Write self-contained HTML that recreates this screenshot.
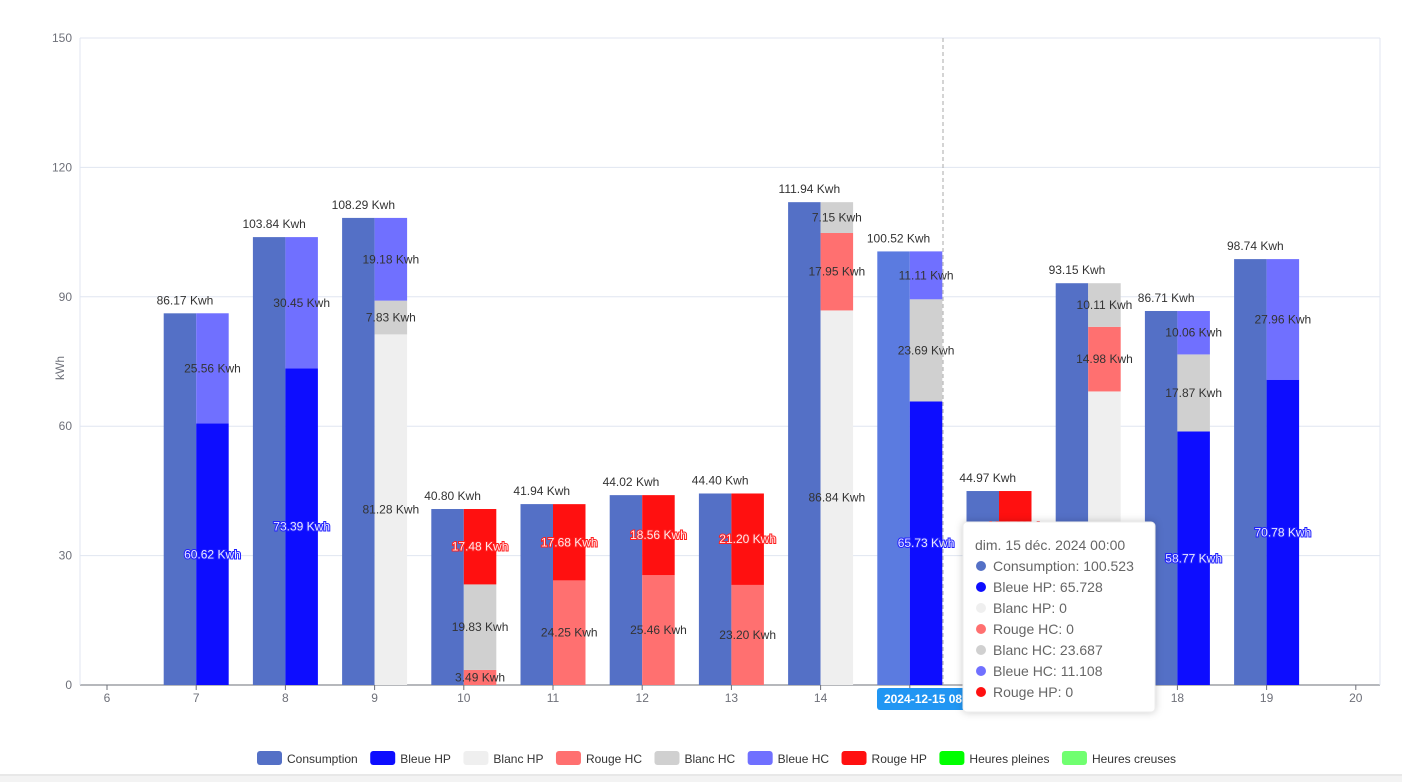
<!DOCTYPE html>
<html><head><meta charset="utf-8"><style>
body{margin:0;background:#fff;font-family:"Liberation Sans",sans-serif;}
svg{display:block}
</style></head><body>
<svg id="c" width="1402" height="782"></svg>
<script>
const days=[6,7,8,9,10,11,12,13,14,15,16,17,18,19,20];
const consumption=[null,86.17,103.84,108.29,40.80,41.94,44.02,44.40,111.94,100.52,44.97,93.15,86.71,98.74,null];
const bleueHP=[0,60.62,73.39,0,0,0,0,0,0,65.73,0,0,58.77,70.78,0];
const blancHP=[0,0,0,81.28,0,0,0,0,86.84,0,0,68.06,0,0,0];
const rougeHC=[0,0,0,0,3.49,24.25,25.46,23.20,17.95,0,28.60,14.98,0,0,0];
const blancHC=[0,0,0,7.83,19.83,0,0,0,7.15,23.69,0,10.11,17.87,0,0];
const bleueHC=[0,25.56,30.45,19.18,0,0,0,0,0,11.11,0,0,10.06,27.96,0];
const rougeHP=[0,0,0,0,17.48,17.68,18.56,21.20,0,0,16.37,0,0,0,0];
const yTicks=[0,30,60,90,120,150];
const legendNames=["Consumption","Bleue HP","Blanc HP","Rouge HC","Blanc HC","Bleue HC","Rouge HP","Heures pleines","Heures creuses"];
const legendColors=["#5470c6","#0d0dff","#efefef","#ff7070","#d0d0d0","#7070ff","#ff1010","#00ff00","#70ff70"];

const svg=document.getElementById('c');const NS='http://www.w3.org/2000/svg';
function mk(t,a,p){const e=document.createElementNS(NS,t);for(const k in a)e.setAttribute(k,a[k]);(p||svg).appendChild(e);return e;}
const X0=80,X1=1380,Y0=685,Y1=38;
const y=v=>Y0-(v/150)*(Y0-Y1);
const x=d=>107+(d-6)*89.2;
const BW=32.5;
yTicks.forEach(t=>{
 const g=mk('line',{x1:X0,x2:X1,y1:y(t),y2:y(t),stroke:t===0?'#6e7079':'#e0e6f1'});
 
 const l=mk('text',{x:72,y:y(t)+4,'text-anchor':'end','font-size':12,fill:'#6e7079'});l.textContent=t;
 
});
mk('line',{x1:X0,x2:X0,y1:Y1,y2:Y0,stroke:'#e0e6f1'});
mk('line',{x1:X1,x2:X1,y1:Y1,y2:Y0,stroke:'#e0e6f1'});
const yt=mk('text',{x:64,y:368,'font-size':12,fill:'#6e7079','text-anchor':'middle',transform:'rotate(-90 64 368)'});yt.textContent='kWh';

days.forEach(d=>{
 mk('line',{x1:x(d),x2:x(d),y1:Y0,y2:Y0+5,stroke:'#6e7079'});
 const t=mk('text',{x:x(d),y:Y0+17,'text-anchor':'middle','font-size':12,fill:'#6e7079'});t.textContent=d;
 
});
const series=[['bleue-hp',bleueHP,'#0d0dff'],['blanc-hp',blancHP,'#efefef'],['rouge-hc',rougeHC,'#ff7070'],['blanc-hc',blancHC,'#d0d0d0'],['bleue-hc',bleueHC,'#7070ff'],['rouge-hp',rougeHP,'#ff1010']];
days.forEach((d,i)=>{
 const c=consumption[i];if(c==null)return;
 const cx=x(d);
 const r=mk('rect',{x:cx-BW,y:y(c),width:BW,height:Y0-y(c),fill:d===15?'#5b7be0':'#5470c6'});
 
 const l=mk('text',{x:cx-BW/2+5,y:y(c)-9,'text-anchor':'middle','font-size':12,fill:'#333'});l.textContent=c.toFixed(2)+' Kwh';
 
 let acc=0;
 series.forEach(([n,arr,col])=>{
  const v=arr[i];if(!v)return;
  const s=mk('rect',{x:cx,y:y(acc+v),width:BW,height:y(acc)-y(acc+v),fill:col});
  
  const my=(y(acc)+y(acc+v))/2+4;
  const a={x:cx+BW/2,y:my,'text-anchor':'middle','font-size':12,fill:'#333'};
  if(n==='bleue-hp'){a.fill='#e8e8ff';a.stroke='#2020ff';a['stroke-width']=2;a['paint-order']='stroke';}
  if(n==='rouge-hp'){a.fill='#ffe8e8';a.stroke='#ff2020';a['stroke-width']=2;a['paint-order']='stroke';}
  const t=mk('text',a);t.textContent=v.toFixed(2)+' Kwh';
  
  acc+=v;
 });
});
mk('line',{x1:943,x2:943,y1:Y1,y2:Y0,stroke:'#aaa','stroke-dasharray':'4,3'});
const pb=mk('rect',{x:877,y:688,width:92,height:22,rx:3,fill:'#2196f3'});

const pt=mk('text',{x:884,y:703,'font-size':12,fill:'#fff','font-weight':'bold'});pt.textContent='2024-12-15 08';
const tg=mk('g',{});
mk('rect',{x:963,y:522,width:192,height:190,rx:4,fill:'#fff',stroke:'#eee',style:'filter:drop-shadow(0 0 4px rgba(0,0,0,0.2))'},tg);
const th=mk('text',{x:975,y:550,'font-size':14,fill:'#666'},tg);th.textContent='dim. 15 déc. 2024 00:00';
const tipRows=[['Consumption: 100.523','#5470c6'],['Bleue HP: 65.728','#0d0dff'],['Blanc HP: 0','#efefef'],['Rouge HC: 0','#ff7070'],['Blanc HC: 23.687','#d0d0d0'],['Bleue HC: 11.108','#7070ff'],['Rouge HP: 0','#ff1010']];
tipRows.forEach((r,k)=>{
 const yy=566+k*21;
 mk('circle',{cx:981,cy:yy,r:5,fill:r[1]},tg);
 const t=mk('text',{x:993,y:yy+5,'font-size':14,fill:'#666'},tg);t.textContent=r[0];
});
let lx=257;
legendNames.forEach((n,k)=>{
 const g=mk('g',{});
 mk('rect',{x:lx,y:751,width:25,height:14,rx:3,fill:legendColors[k]},g);
 const t=mk('text',{x:lx+30,y:763,'font-size':12,fill:'#333'},g);t.textContent=n;
 lx+=30+t.getComputedTextLength()+12.5;
});
mk('line',{x1:0,x2:1402,y1:775,y2:775,stroke:'#d0d0d0'});
mk('rect',{x:0,y:776,width:1402,height:6,fill:'#f3f3f3'});
</script>
</body></html>
